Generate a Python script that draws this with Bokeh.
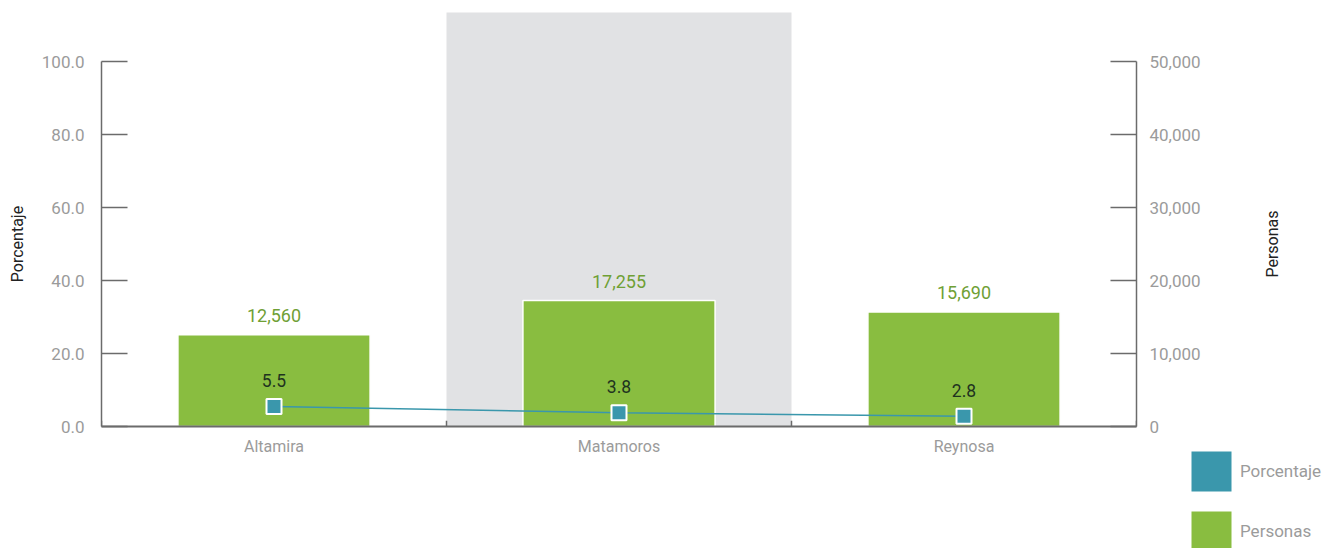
import math
from bokeh.plotting import figure
from bokeh.models import (FactorRange, Range1d, LinearAxis, FixedTicker,
                          NumeralTickFormatter, Legend, LegendItem, Label,
                          ColumnDataSource, LabelSet, GridBox)
from bokeh.core.properties import value
from bokeh.embed import file_html
from bokeh.resources import INLINE

categories = ["Altamira", "Matamoros", "Reynosa"]
personas = [12560, 17255, 15690]
porcentaje = [5.5, 3.8, 2.8]
personas_labels = ["12,560", "17,255", "15,690"]
porcentaje_labels = ["5.5", "3.8", "2.8"]
left_ticks = [0, 20, 40, 60, 80, 100]
right_ticks = [0, 10000, 20000, 30000, 40000, 50000]
boundaries = [0, 1, 2, 3]
legend_labels = ["Porcentaje", "Personas"]
left_title = "Porcentaje"
right_title = "Personas"
highlight = "Matamoros"

FONT = "Roboto"
GRAY_TXT = "#9b9b9b"
AXIS_COL = "#6b6b6b"
GREEN = "#89bd40"
TEAL = "#3a97ac"
BAND = "#e1e2e4"

W, H = 1326, 548
FL, FR, FT, FB = 101, 1136, 61, 426          # frame edges in pixels
PX_PER_X = (FR - FL) / len(categories)       # pixels per category
PX_PER_Y = (FB - FT) / 100.0                 # pixels per percent
BAND_TOP_PX = 12
RIGHT_TITLE_X = 1272

# ---------------- main chart (transparent, on top) ----------------
p = figure(x_range=FactorRange(*categories, range_padding=0),
           y_range=Range1d(0, 100), width=W, height=H,
           output_backend="svg", toolbar_location=None,
           min_border_left=FL, min_border_right=W - FR,
           min_border_top=FT, min_border_bottom=H - FB)
p.extra_y_ranges = {"pers": Range1d(0, 50000)}
p.outline_line_color = None
p.xgrid.grid_line_color = None
p.ygrid.grid_line_color = None
p.background_fill_alpha = 0
p.border_fill_alpha = 0

src = ColumnDataSource(dict(cat=categories, pers=personas, porc=porcentaje,
                            pl=personas_labels, cl=porcentaje_labels))

bars = p.vbar(x="cat", top="pers", width=0.557, y_range_name="pers", source=src,
              fill_color=GREEN, line_color="white", line_width=1.5)

p.add_layout(LabelSet(x="cat", y="pers", text="pl", y_range_name="pers", source=src,
                      y_offset=19, text_align="center", text_baseline="middle",
                      text_color="#6fa035", text_font=value(FONT),
                      text_font_size="18px"))

p.line(x="cat", y="porc", source=src, line_color=TEAL, line_width=1.5)
p.scatter(x="cat", y="porc", source=src, marker="square", size=15,
          fill_color=TEAL, line_color="white", line_width=2)
p.add_layout(LabelSet(x="cat", y="porc", text="cl", source=src,
                      y_offset=26, text_align="center", text_baseline="middle",
                      text_color="#1f331f", text_font=value(FONT),
                      text_font_size="17.5px"))

# category boundary ticks on the bottom axis
p.segment(x0=boundaries, x1=boundaries, y0=[0] * 4, y1=[1.6] * 4,
          line_color=AXIS_COL, line_width=1.5)

xa = p.xaxis[0]
xa.axis_line_color = AXIS_COL
xa.axis_line_width = 2
xa.major_tick_line_color = None
xa.minor_tick_line_color = None
xa.major_label_text_color = GRAY_TXT
xa.major_label_text_font = FONT
xa.major_label_text_font_size = "16px"
xa.major_label_standoff = 4

ya = p.yaxis[0]
ya.ticker = FixedTicker(ticks=left_ticks)
ya.formatter = NumeralTickFormatter(format="0.0")
ya.axis_label = left_title

ra = LinearAxis(y_range_name="pers",
                ticker=FixedTicker(ticks=right_ticks),
                formatter=NumeralTickFormatter(format="0,0"))
p.add_layout(ra, "right")

for ax in (ya, ra):
    ax.axis_line_color = AXIS_COL
    ax.axis_line_width = 1.5
    ax.major_tick_line_color = AXIS_COL
    ax.major_tick_line_width = 1.5
    ax.major_tick_in = 26
    ax.major_tick_out = 0
    ax.minor_tick_line_color = None
    ax.major_label_text_color = GRAY_TXT
    ax.major_label_text_font = FONT
    ax.major_label_text_font_size = "17px"
    ax.axis_label_text_font = FONT
    ax.axis_label_text_font_style = "normal"
    ax.axis_label_text_font_size = "16px"
    ax.axis_label_text_color = "#222222"
ya.major_label_standoff = 17
ya.axis_label_standoff = 12
ra.major_label_standoff = 13

# ---------------- background figure (underneath): band, right title, legend ----------------
bg = figure(frame_width=W, frame_height=H, output_backend="svg",
            toolbar_location=None, x_axis_type=None, y_axis_type=None,
            x_range=Range1d(-FL / PX_PER_X, (W - FL) / PX_PER_X),
            y_range=Range1d((FB - H) / PX_PER_Y, FB / PX_PER_Y),
            min_border=0)
if "frame_align" in bg.properties():
    bg.frame_align = False
bg.outline_line_color = None
bg.xgrid.grid_line_color = None
bg.ygrid.grid_line_color = None

hi = categories.index(highlight)
bg.quad(left=[hi], right=[hi + 1], bottom=[0], top=[(FB - BAND_TOP_PX) / PX_PER_Y],
        fill_color=BAND, line_color=None)

# right-hand axis title, centred on the axis and reading bottom-to-top
bg.add_layout(Label(x=(RIGHT_TITLE_X - FL) / PX_PER_X, y=50, text=right_title,
                    angle=math.pi / 2, text_align="center", text_baseline="middle",
                    text_font=FONT, text_font_size="16px",
                    text_color="#222222"))

d1 = bg.quad(left=[-50], right=[-49], top=[-50], bottom=[-51],
             fill_color=TEAL, line_color=None)
d2 = bg.quad(left=[-50], right=[-49], top=[-50], bottom=[-51],
             fill_color=GREEN, line_color=None)
legend = Legend(items=[LegendItem(label=legend_labels[0], renderers=[d1]),
                       LegendItem(label=legend_labels[1], renderers=[d2])],
                location=(1186, H - 556), glyph_width=50, glyph_height=50,
                label_height=50, spacing=10, padding=0, margin=0,
                label_standoff=4, border_line_color=None,
                background_fill_alpha=0, label_text_color=GRAY_TXT,
                label_text_font=FONT, label_text_font_size="17px")
bg.add_layout(legend)

layout = GridBox(children=[(bg, 0, 0), (p, 0, 0)])
open("out.html", "w").write(file_html(layout, INLINE))
